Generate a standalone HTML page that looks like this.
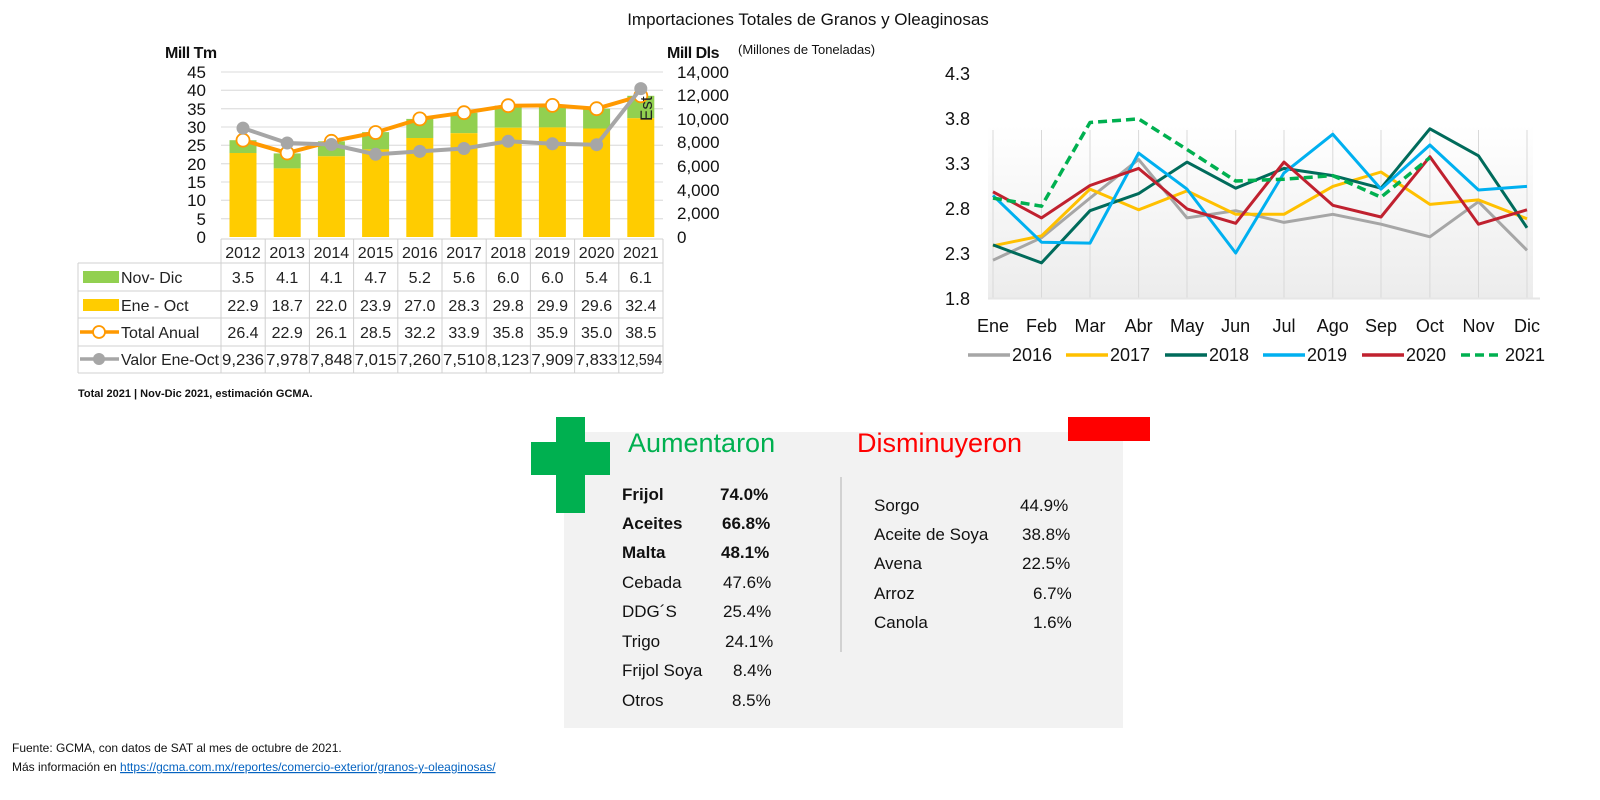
<!DOCTYPE html>
<html><head><meta charset="utf-8"><style>
body{margin:0;background:#fff;width:1600px;height:800px;overflow:hidden}
svg{display:block}
text{font-family:"Liberation Sans",sans-serif}
.n{font-size:17px;fill:#111}
.t{font-size:16px;fill:#222}
</style></head><body>
<svg width="1600" height="800" viewBox="0 0 1600 800">
<defs>
<linearGradient id="bg" x1="0" y1="0" x2="0" y2="1">
<stop offset="0" stop-color="#fff"/><stop offset="1" stop-color="#ececec"/></linearGradient>
</defs>
<text x="808" y="25" text-anchor="middle" style="font-size:17px;fill:#111">Importaciones Totales de Granos y Oleaginosas</text>
<text x="738" y="54" style="font-size:13px;fill:#111">(Millones de Toneladas)</text>

<!-- LEFT CHART -->
<g stroke="#e2e2e2" stroke-width="1.3">
<line x1="221" x2="663" y1="72" y2="72"/><line x1="221" x2="663" y1="90.3" y2="90.3"/><line x1="221" x2="663" y1="108.7" y2="108.7"/><line x1="221" x2="663" y1="127" y2="127"/><line x1="221" x2="663" y1="145.3" y2="145.3"/><line x1="221" x2="663" y1="163.7" y2="163.7"/><line x1="221" x2="663" y1="182" y2="182"/><line x1="221" x2="663" y1="200.3" y2="200.3"/><line x1="221" x2="663" y1="218.7" y2="218.7"/>
</g>
<text x="165" y="58" style="font-size:16px;font-weight:bold;fill:#111;letter-spacing:-0.5px">Mill Tm</text>
<text x="667" y="58" style="font-size:16px;font-weight:bold;fill:#111;letter-spacing:-0.5px">Mill Dls</text>
<g class="n" text-anchor="end">
<text x="206" y="78">45</text><text x="206" y="96">40</text><text x="206" y="115">35</text><text x="206" y="133">30</text><text x="206" y="151">25</text><text x="206" y="170">20</text><text x="206" y="188">15</text><text x="206" y="206">10</text><text x="206" y="225">5</text><text x="206" y="243">0</text>
</g>
<g class="n">
<text x="677" y="78">14,000</text><text x="677" y="101">12,000</text><text x="677" y="125">10,000</text><text x="677" y="148">8,000</text><text x="677" y="172">6,000</text><text x="677" y="196">4,000</text><text x="677" y="219">2,000</text><text x="677" y="243">0</text>
</g>
<g>
<rect x="229.5" y="140.2" width="27" height="12.8" fill="#92d050"/><rect x="229.5" y="153" width="27" height="84" fill="#ffcc00"/>
<rect x="273.7" y="153.4" width="27" height="15" fill="#92d050"/><rect x="273.7" y="168.4" width="27" height="68.6" fill="#ffcc00"/>
<rect x="317.9" y="141.3" width="27" height="15" fill="#92d050"/><rect x="317.9" y="156.3" width="27" height="80.7" fill="#ffcc00"/>
<rect x="362.1" y="132.1" width="27" height="17.3" fill="#92d050"/><rect x="362.1" y="149.4" width="27" height="87.6" fill="#ffcc00"/>
<rect x="406.3" y="118.9" width="27" height="19.1" fill="#92d050"/><rect x="406.3" y="138" width="27" height="99" fill="#ffcc00"/>
<rect x="450.5" y="112.7" width="27" height="20.5" fill="#92d050"/><rect x="450.5" y="133.2" width="27" height="103.8" fill="#ffcc00"/>
<rect x="494.7" y="105.7" width="27" height="22" fill="#92d050"/><rect x="494.7" y="127.7" width="27" height="109.3" fill="#ffcc00"/>
<rect x="538.9" y="105.4" width="27" height="22" fill="#92d050"/><rect x="538.9" y="127.4" width="27" height="109.6" fill="#ffcc00"/>
<rect x="583.1" y="108.7" width="27" height="19.8" fill="#92d050"/><rect x="583.1" y="128.5" width="27" height="108.5" fill="#ffcc00"/>
<rect x="627.3" y="95.8" width="27" height="22.4" fill="#92d050"/><rect x="627.3" y="118.2" width="27" height="118.8" fill="#ffcc00"/>
</g>
<polyline fill="none" stroke="#ff9900" stroke-width="4" points="243,140.2 287.2,153 331.4,141.3 375.6,132.5 419.8,118.9 464,112.7 508.2,105.7 552.4,105.4 596.6,108.7 640.8,95.8"/>
<g fill="#fff" stroke="#ff9900" stroke-width="1.8">
<circle cx="243" cy="140.2" r="6.5"/><circle cx="287.2" cy="153" r="6.5"/><circle cx="331.4" cy="141.3" r="6.5"/><circle cx="375.6" cy="132.5" r="6.5"/><circle cx="419.8" cy="118.9" r="6.5"/><circle cx="464" cy="112.7" r="6.5"/><circle cx="508.2" cy="105.7" r="6.5"/><circle cx="552.4" cy="105.4" r="6.5"/><circle cx="596.6" cy="108.7" r="6.5"/><circle cx="640.8" cy="95.8" r="6.5"/>
</g>
<polyline fill="none" stroke="#a6a6a6" stroke-width="4" points="243,128.1 287.2,143 331.4,144.5 375.6,154.3 419.8,151.4 464,148.5 508.2,141.3 552.4,143.8 596.6,144.7 640.8,88.6"/>
<g fill="#a6a6a6">
<circle cx="243" cy="128.1" r="6.5"/><circle cx="287.2" cy="143" r="6.5"/><circle cx="331.4" cy="144.5" r="6.5"/><circle cx="375.6" cy="154.3" r="6.5"/><circle cx="419.8" cy="151.4" r="6.5"/><circle cx="464" cy="148.5" r="6.5"/><circle cx="508.2" cy="141.3" r="6.5"/><circle cx="552.4" cy="143.8" r="6.5"/><circle cx="596.6" cy="144.7" r="6.5"/><circle cx="640.8" cy="88.6" r="6.5"/>
</g>
<text transform="translate(652,121) rotate(-90)" style="font-size:17px;fill:#222">Est</text>

<!-- table -->
<g stroke="#d0d0d0" stroke-width="1">
<line x1="221" x2="663" y1="239" y2="239"/>
<line x1="78" x2="663" y1="263" y2="263"/><line x1="78" x2="663" y1="291" y2="291"/><line x1="78" x2="663" y1="318" y2="318"/><line x1="78" x2="663" y1="346" y2="346"/><line x1="78" x2="663" y1="373" y2="373"/>
<line x1="78" x2="78" y1="263" y2="373"/>
<line x1="221" x2="221" y1="239" y2="373"/><line x1="265.2" x2="265.2" y1="239" y2="373"/><line x1="309.4" x2="309.4" y1="239" y2="373"/><line x1="353.6" x2="353.6" y1="239" y2="373"/><line x1="397.8" x2="397.8" y1="239" y2="373"/><line x1="442" x2="442" y1="239" y2="373"/><line x1="486.2" x2="486.2" y1="239" y2="373"/><line x1="530.4" x2="530.4" y1="239" y2="373"/><line x1="574.6" x2="574.6" y1="239" y2="373"/><line x1="618.8" x2="618.8" y1="239" y2="373"/><line x1="663" x2="663" y1="239" y2="373"/>
</g>
<g class="t" text-anchor="middle">
<text x="243" y="258">2012</text><text x="287.2" y="258">2013</text><text x="331.4" y="258">2014</text><text x="375.6" y="258">2015</text><text x="419.8" y="258">2016</text><text x="464" y="258">2017</text><text x="508.2" y="258">2018</text><text x="552.4" y="258">2019</text><text x="596.6" y="258">2020</text><text x="640.8" y="258">2021</text>
<text x="243" y="283">3.5</text><text x="287.2" y="283">4.1</text><text x="331.4" y="283">4.1</text><text x="375.6" y="283">4.7</text><text x="419.8" y="283">5.2</text><text x="464" y="283">5.6</text><text x="508.2" y="283">6.0</text><text x="552.4" y="283">6.0</text><text x="596.6" y="283">5.4</text><text x="640.8" y="283">6.1</text>
<text x="243" y="311">22.9</text><text x="287.2" y="311">18.7</text><text x="331.4" y="311">22.0</text><text x="375.6" y="311">23.9</text><text x="419.8" y="311">27.0</text><text x="464" y="311">28.3</text><text x="508.2" y="311">29.8</text><text x="552.4" y="311">29.9</text><text x="596.6" y="311">29.6</text><text x="640.8" y="311">32.4</text>
<text x="243" y="338">26.4</text><text x="287.2" y="338">22.9</text><text x="331.4" y="338">26.1</text><text x="375.6" y="338">28.5</text><text x="419.8" y="338">32.2</text><text x="464" y="338">33.9</text><text x="508.2" y="338">35.8</text><text x="552.4" y="338">35.9</text><text x="596.6" y="338">35.0</text><text x="640.8" y="338">38.5</text>
</g>
<g class="t">
<text x="222" y="365" textLength="42" lengthAdjust="spacingAndGlyphs">9,236</text><text x="266.2" y="365" textLength="42" lengthAdjust="spacingAndGlyphs">7,978</text><text x="310.4" y="365" textLength="42" lengthAdjust="spacingAndGlyphs">7,848</text><text x="354.6" y="365" textLength="42" lengthAdjust="spacingAndGlyphs">7,015</text><text x="398.8" y="365" textLength="42" lengthAdjust="spacingAndGlyphs">7,260</text><text x="443" y="365" textLength="42" lengthAdjust="spacingAndGlyphs">7,510</text><text x="487.2" y="365" textLength="42" lengthAdjust="spacingAndGlyphs">8,123</text><text x="531.4" y="365" textLength="42" lengthAdjust="spacingAndGlyphs">7,909</text><text x="575.6" y="365" textLength="42" lengthAdjust="spacingAndGlyphs">7,833</text><text x="619.3" y="365" textLength="43" lengthAdjust="spacingAndGlyphs">12,594</text>
</g>
<rect x="83" y="271" width="36" height="12" fill="#92d050"/>
<rect x="83" y="299" width="36" height="12" fill="#ffcc00"/>
<line x1="80" x2="119" y1="332" y2="332" stroke="#ff9900" stroke-width="3.5"/><circle cx="99" cy="332" r="6" fill="#fff" stroke="#ff9900" stroke-width="1.8"/>
<line x1="80" x2="119" y1="359" y2="359" stroke="#a6a6a6" stroke-width="3.5"/><circle cx="99" cy="359" r="6" fill="#a6a6a6"/>
<g class="t"><text x="121" y="283">Nov- Dic</text><text x="121" y="311">Ene - Oct</text><text x="121" y="338">Total Anual</text><text x="121" y="365" textLength="98" lengthAdjust="spacingAndGlyphs">Valor Ene-Oct</text></g>
<text x="78" y="397" style="font-size:11px;font-weight:bold;fill:#111">Total 2021 | Nov-Dic 2021, estimación GCMA.</text>

<!-- RIGHT CHART -->
<rect x="988" y="125" width="545" height="173" fill="url(#bg)"/>
<g stroke="#d9d9d9" stroke-width="1">
<line x1="993" x2="993" y1="130" y2="298"/><line x1="1041.5" x2="1041.5" y1="130" y2="298"/><line x1="1090" x2="1090" y1="130" y2="298"/><line x1="1138.6" x2="1138.6" y1="130" y2="298"/><line x1="1187" x2="1187" y1="130" y2="298"/><line x1="1235.7" x2="1235.7" y1="130" y2="298"/><line x1="1284" x2="1284" y1="130" y2="298"/><line x1="1332.8" x2="1332.8" y1="130" y2="298"/><line x1="1381" x2="1381" y1="130" y2="298"/><line x1="1429.9" x2="1429.9" y1="130" y2="298"/><line x1="1478.5" x2="1478.5" y1="130" y2="298"/><line x1="1527" x2="1527" y1="130" y2="298"/>
</g>
<line x1="988" x2="1540" y1="298.5" y2="298.5" stroke="#e6e6e6" stroke-width="2"/>
<g class="n" style="font-size:18px">
<text x="945" y="80">4.3</text><text x="945" y="125">3.8</text><text x="945" y="170">3.3</text><text x="945" y="215">2.8</text><text x="945" y="260">2.3</text><text x="945" y="305">1.8</text>
</g>
<g class="n" style="font-size:18px" text-anchor="middle">
<text x="993" y="332">Ene</text><text x="1041.5" y="332">Feb</text><text x="1090" y="332">Mar</text><text x="1138.6" y="332">Abr</text><text x="1187" y="332">May</text><text x="1235.7" y="332">Jun</text><text x="1284" y="332">Jul</text><text x="1332.8" y="332">Ago</text><text x="1381" y="332">Sep</text><text x="1429.9" y="332">Oct</text><text x="1478.5" y="332">Nov</text><text x="1527" y="332">Dic</text>
</g>
<g fill="none" stroke-width="3" stroke-linejoin="round">
<polyline stroke="#a6a6a6" points="993,260.2 1041.5,237.7 1090,198.1 1138.6,159.4 1187,217.9 1235.7,210.7 1284,222.4 1332.8,214.3 1381,224.2 1429.9,236.8 1478.5,201.7 1527,250.3"/>
<polyline stroke="#ffc000" points="993,245.8 1041.5,235.9 1090,189.1 1138.6,209.8 1187,190.9 1235.7,214.3 1284,214.3 1332.8,186.4 1381,172 1429.9,204.4 1478.5,199.9 1527,218.8"/>
<polyline stroke="#006b5b" points="993,244.9 1041.5,262.9 1090,210.7 1138.6,193.6 1187,162.1 1235.7,188.2 1284,168.4 1332.8,175.6 1381,188.2 1429.9,128.8 1478.5,155.8 1527,227.8"/>
<polyline stroke="#00b0f0" points="993,195.4 1041.5,242.2 1090,243.1 1138.6,153.1 1187,189.1 1235.7,253 1284,172.9 1332.8,134.2 1381,189.1 1429.9,145 1478.5,190 1527,186.4"/>
<polyline stroke="#c0212f" points="993,191.8 1041.5,217.9 1090,185.5 1138.6,168.4 1187,208.9 1235.7,223.3 1284,162.1 1332.8,205.3 1381,217 1429.9,156.7 1478.5,224.2 1527,209.8"/>
<polyline stroke="#00b050" stroke-width="3.5" stroke-dasharray="9,5" points="993,198.1 1041.5,206.2 1090,122.5 1138.6,118.9 1187,149.5 1235.7,181 1284,179.2 1332.8,175.6 1381,197.2 1429.9,157.6"/>
</g>
<g stroke-width="3.5">
<line x1="968" x2="1010" y1="355" y2="355" stroke="#a6a6a6"/>
<line x1="1066" x2="1108" y1="355" y2="355" stroke="#ffc000"/>
<line x1="1165" x2="1207" y1="355" y2="355" stroke="#006b5b"/>
<line x1="1263" x2="1305" y1="355" y2="355" stroke="#00b0f0"/>
<line x1="1362" x2="1404" y1="355" y2="355" stroke="#c0212f"/>
<line x1="1461" x2="1503" y1="355" y2="355" stroke="#00b050" stroke-dasharray="9,5"/>
</g>
<g class="n" style="font-size:18px">
<text x="1012" y="361">2016</text><text x="1110" y="361">2017</text><text x="1209" y="361">2018</text><text x="1307" y="361">2019</text><text x="1406" y="361">2020</text><text x="1505" y="361">2021</text>
</g>

<!-- BOTTOM PANEL -->
<rect x="564" y="432" width="559" height="296" fill="#f2f2f2"/>
<rect x="1068" y="417" width="82" height="24" fill="#ff0000"/>
<rect x="556" y="417" width="29" height="96" fill="#00b050"/>
<rect x="531" y="442" width="79" height="33" fill="#00b050"/>
<text x="628" y="452" style="font-size:27px;fill:#00b050">Aumentaron</text>
<text x="857" y="452" style="font-size:27px;fill:#ff0000">Disminuyeron</text>
<line x1="841" x2="841" y1="477" y2="652" stroke="#c8c8c8" stroke-width="1.5"/>
<g style="font-size:17px;fill:#111">
<text x="622" y="500" font-weight="bold">Frijol</text><text x="720" y="500" font-weight="bold">74.0%</text>
<text x="622" y="529" font-weight="bold">Aceites</text><text x="722" y="529" font-weight="bold">66.8%</text>
<text x="622" y="558" font-weight="bold">Malta</text><text x="721" y="558" font-weight="bold">48.1%</text>
<text x="622" y="588">Cebada</text><text x="723" y="588">47.6%</text>
<text x="622" y="617">DDG´S</text><text x="723" y="617">25.4%</text>
<text x="622" y="647">Trigo</text><text x="725" y="647">24.1%</text>
<text x="622" y="676">Frijol Soya</text><text x="733" y="676">8.4%</text>
<text x="622" y="706">Otros</text><text x="732" y="706">8.5%</text>
<text x="874" y="511">Sorgo</text><text x="1020" y="511">44.9%</text>
<text x="874" y="540">Aceite de Soya</text><text x="1022" y="540">38.8%</text>
<text x="874" y="569">Avena</text><text x="1022" y="569">22.5%</text>
<text x="874" y="599">Arroz</text><text x="1033" y="599">6.7%</text>
<text x="874" y="628">Canola</text><text x="1033" y="628">1.6%</text>
</g>
<text x="12" y="752" style="font-size:12px;fill:#111">Fuente: GCMA, con datos de SAT al mes de octubre de 2021.</text>
<text x="12" y="771" style="font-size:12px;fill:#111">Más información en <tspan fill="#0563c1" text-decoration="underline">https://gcma.com.mx/reportes/comercio-exterior/granos-y-oleaginosas/</tspan></text>
</svg>
</body></html>
